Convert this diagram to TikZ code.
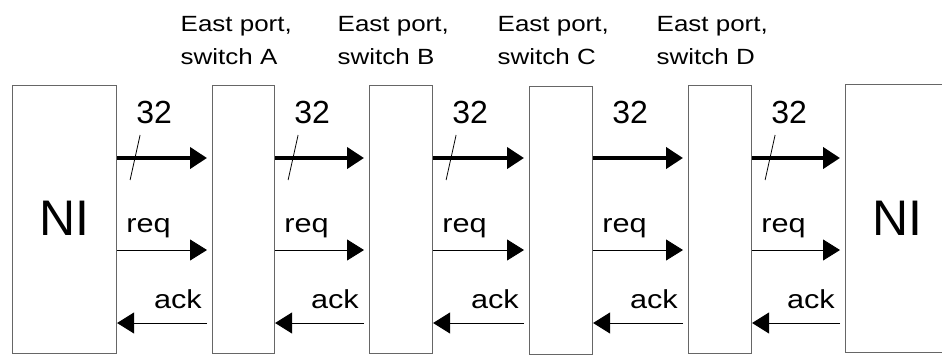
\documentclass[tikz,border=0pt]{standalone}
\usepackage{fontspec}
\setmainfont{Liberation Sans}
\newfontfamily\widesans[FakeStretch=1.18]{Liberation Sans}
\usetikzlibrary{arrows.meta}

\tikzset{
  unit/.style={draw=black!60, line width=1.1pt, rectangle, inner sep=0pt, anchor=north west},
  bus/.style={line width=4pt, -{Triangle[length=17pt,width=21pt]}},
  wire/.style={line width=0.9pt, -{Triangle[length=17pt,width=21pt]}},
  slash/.style={line width=0.8pt},
  buslabel/.style={font=\fontsize{32}{32}\selectfont, anchor=base, inner sep=0pt},
  siglabel/.style={font=\widesans\fontsize{26}{26}\selectfont, inner sep=0pt},
  portlabel/.style={font=\widesans\fontsize{22}{33}\selectfont, align=left, anchor=base west, inner sep=0pt},
  nilabel/.style={font=\fontsize{50}{50}\selectfont, inner sep=0pt}
}

\begin{document}
\begin{tikzpicture}[x=1pt, y=-1pt]
  \clip (0,0) rectangle (942,354);
  \fill[white] (0,0) rectangle (942,354);

  % signal rows
  \coordinate (busrow) at (0,158);
  \coordinate (reqrow) at (0,250);
  \coordinate (ackrow) at (0,323);

  % network interfaces and switch ports
  \node[unit, minimum width=104pt, minimum height=268pt] (niL) at (12,85) {};
  \node[unit, minimum width=62pt,  minimum height=268pt] (swA) at (212,85) {};
  \node[unit, minimum width=63pt,  minimum height=268pt] (swB) at (369,85) {};
  \node[unit, minimum width=63pt,  minimum height=268pt] (swC) at (529,86) {};
  \node[unit, minimum width=63pt,  minimum height=268pt] (swD) at (688,85) {};
  \node[unit, minimum width=120pt, minimum height=268pt] (niR) at (845,84) {};

  \node[nilabel] (niLtext) at (64,218) {NI};
  \node[nilabel] (niRtext) at (897,218) {NI};

  % port names above the switches (base anchor sits on the last line)
  \foreach \s/\l in {swA/A, swB/B, swC/C, swD/D}
    \node[portlabel] (port\l) at ([xshift=-31.5pt]\s.north west |- 0,64) {East port,\\switch \l};

  % links between neighbouring units
  \foreach \a/\b/\i in {niL/swA/1, swA/swB/2, swB/swC/3, swC/swD/4, swD/niR/5} {
    \coordinate (s\i) at (\a.east |- busrow);
    \coordinate (e\i) at ([xshift=-5pt]\b.west |- busrow);
    \draw[bus] (s\i) -- (e\i);
    \node[buslabel] (w\i) at ([xshift=37pt]\a.east |- 0,123) {32};
    \draw[wire] (\a.east |- reqrow) -- ([xshift=-5pt]\b.west |- reqrow);
    \node[siglabel, anchor=base west] (req\i) at ([xshift=9pt]\a.east |- 0,232) {req};
    \draw[wire] ([xshift=-5pt]\b.west |- ackrow) -- (\a.east |- ackrow);
    \node[siglabel, anchor=base east] (ack\i) at ([xshift=-10pt]\b.west |- 0,308) {ack};
  }

  % bus width marks
  \foreach \a/\i in {niL/1, swA/2, swB/3, swD/5} {
    \coordinate (m\i a) at ([xshift=13pt]\a.east |- 0,180);
    \coordinate (m\i b) at ([xshift=23pt]\a.east |- 0,135);
    \draw[slash] (m\i a) -- (m\i b);
  }
\end{tikzpicture}
\end{document}
